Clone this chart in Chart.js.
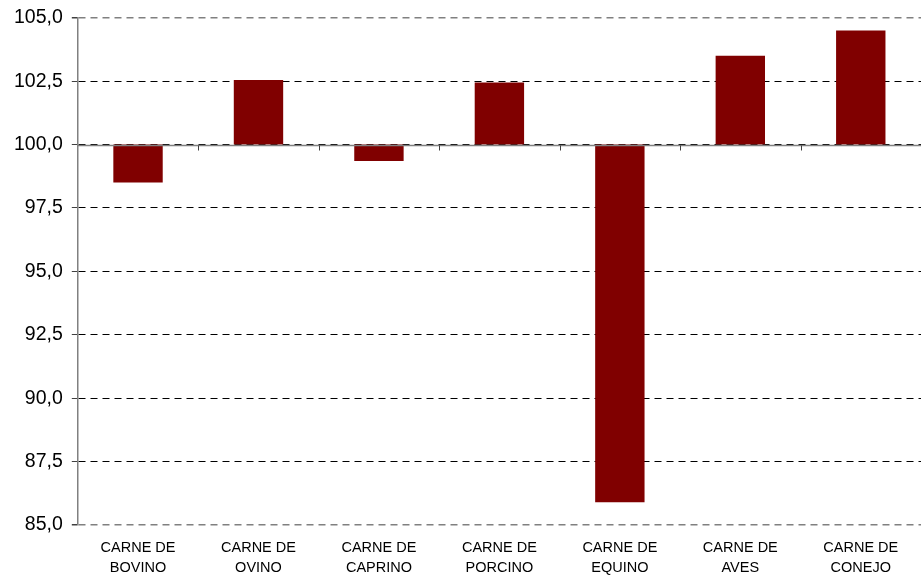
<!DOCTYPE html>
<html>
<head>
<meta charset="utf-8">
<script src="https://cdn.jsdelivr.net/npm/chart.js@4"></script>
<style>
html,body{margin:0;padding:0;background:#fff;}
#wrap{width:921px;height:576px;}
</style>
</head>
<body>
<div id="wrap"><canvas id="c" width="921" height="576"></canvas></div>
<script>
const categories = [
  ["CARNE DE","BOVINO"],
  ["CARNE DE","OVINO"],
  ["CARNE DE","CAPRINO"],
  ["CARNE DE","PORCINO"],
  ["CARNE DE","EQUINO"],
  ["CARNE DE","AVES"],
  ["CARNE DE","CONEJO"]
];
const values = [98.5, 102.55, 99.35, 102.45, 85.9, 103.5, 104.5];
const baseValue = 100;
const yMin = 85, yMax = 105, yStep = 2.5;

const axisAt100 = {
  id: 'axisAt100',
  afterDatasetsDraw(chart) {
    const {ctx, chartArea, scales} = chart;
    const x = scales.x, y = scales.y;
    const py = Math.round(y.getPixelForValue(baseValue)) + 0.5;
    ctx.save();
    ctx.strokeStyle = '#808080';
    ctx.lineWidth = 1.5;
    ctx.setLineDash([]);
    ctx.beginPath();
    ctx.moveTo(chartArea.left, py);
    ctx.lineTo(chartArea.right, py);
    ctx.stroke();
    ctx.strokeStyle = '#404040';
    ctx.lineWidth = 1;
    const n = categories.length;
    for (let i = 1; i < n; i++) {
      const px = Math.round((x.getPixelForValue(i - 1) + x.getPixelForValue(i)) / 2) + 0.5;
      ctx.beginPath();
      ctx.moveTo(px, py);
      ctx.lineTo(px, py + 5);
      ctx.stroke();
    }
    ctx.restore();
  }
};

new Chart(document.getElementById('c'), {
  type: 'bar',
  data: {
    labels: categories,
    datasets: [{
      data: values.map(v => [baseValue, v]),
      backgroundColor: '#800000',
      borderWidth: 0,
      barPercentage: 0.41,
      categoryPercentage: 1.0
    }]
  },
  options: {
    responsive: false,
    animation: false,
    layout: { padding: { top: 0, right: 0, left: 5, bottom: 0 } },
    plugins: { legend: { display: false }, tooltip: { enabled: false } },
    scales: {
      x: {
        grid: { display: false },
        border: { display: false },
        afterFit: s => { s.height = 51; },
        ticks: {
          color: '#000',
          font: { family: 'Liberation Sans, Arial, sans-serif', size: 14.5, lineHeight: 1.38 },
          padding: 5,
          maxRotation: 0,
          autoSkip: false
        }
      },
      y: {
        min: yMin, max: yMax,
        grid: {
          color: ctx => (ctx.tick && (ctx.tick.value === yMin || ctx.tick.value === yMax)) ? '#808080' : '#000',
          lineWidth: ctx => (ctx.tick && (ctx.tick.value === yMin || ctx.tick.value === yMax)) ? 1.5 : 1,
          tickLength: 6,
          tickColor: '#404040',
          tickBorderDash: []
        },
        border: { display: true, color: '#808080', width: 1.5, dash: [7, 5] },
        ticks: {
          stepSize: yStep,
          color: '#000',
          padding: 9,
          font: { family: 'Liberation Sans, Arial, sans-serif', size: 19.5, lineHeight: 0.9 },
          callback: v => v.toFixed(1).replace('.', ',')
        }
      }
    }
  },
  plugins: [axisAt100]
});
</script>
</body>
</html>
